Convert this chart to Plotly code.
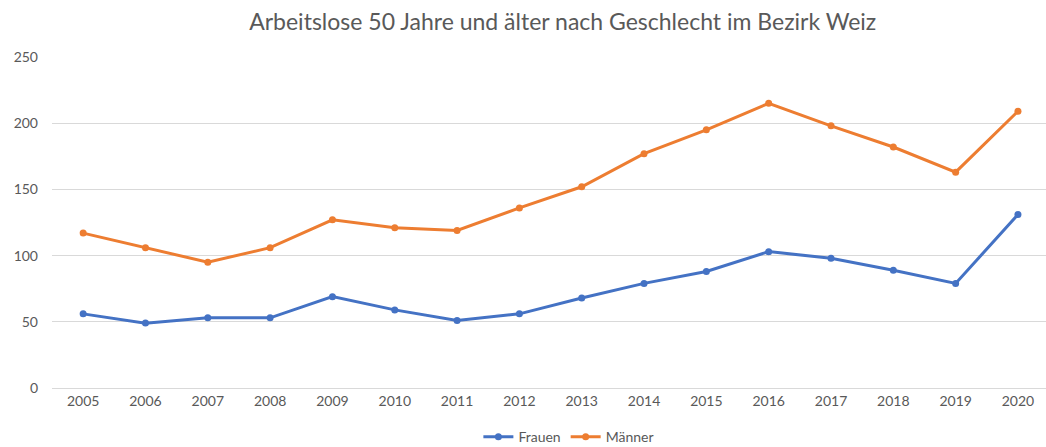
import plotly.graph_objects as go

years = [str(y) for y in range(2005, 2021)]
frauen = [56, 49, 53, 53, 69, 59, 51, 56, 68, 79, 88, 103, 98, 89, 79, 131]
maenner = [117, 106, 95, 106, 127, 121, 119, 136, 152, 177, 195, 215, 198, 182, 163, 209]
y_ticks = [0, 50, 100, 150, 200, 250]

FONT = "Lato"
GREY = "#595959"

fig = go.Figure()
fig.add_trace(go.Scatter(x=years, y=frauen, name="Frauen", mode="lines+markers",
                         line=dict(color="#4472C4", width=3), marker=dict(size=7, color="#4472C4")))
fig.add_trace(go.Scatter(x=years, y=maenner, name="Männer", mode="lines+markers",
                         line=dict(color="#ED7D31", width=3), marker=dict(size=7, color="#ED7D31")))

fig.update_layout(
    width=1046, height=447,
    margin=dict(l=52, r=0, t=57, b=59, autoexpand=False),
    paper_bgcolor="white", plot_bgcolor="white",
    font=dict(family=FONT, color=GREY, size=14),
    title=dict(text="Arbeitslose 50 Jahre und älter nach Geschlecht im Bezirk Weiz",
               x=0.538, xanchor="center", y=0.95, yanchor="middle",
               font=dict(family=FONT, size=23, color=GREY)),
    legend=dict(orientation="h", x=0.52, xanchor="center", yref="container", y=0.022, yanchor="middle",
                font=dict(size=14, color=GREY)),
    xaxis=dict(type="category", range=[-0.5, 15.45], showgrid=False, showline=True,
               linecolor="#D9D9D9", ticks="", tickfont=dict(size=14, color=GREY)),
    yaxis=dict(range=[0, 250], tickvals=y_ticks, showgrid=True, gridcolor="#D9D9D9",
               zeroline=False, ticks="", tickfont=dict(size=14, color=GREY), ticklabelstandoff=13),
)

fig.write_html("out.html", config={"displayModeBar": False},
               post_script="document.body.style.margin='0';")
